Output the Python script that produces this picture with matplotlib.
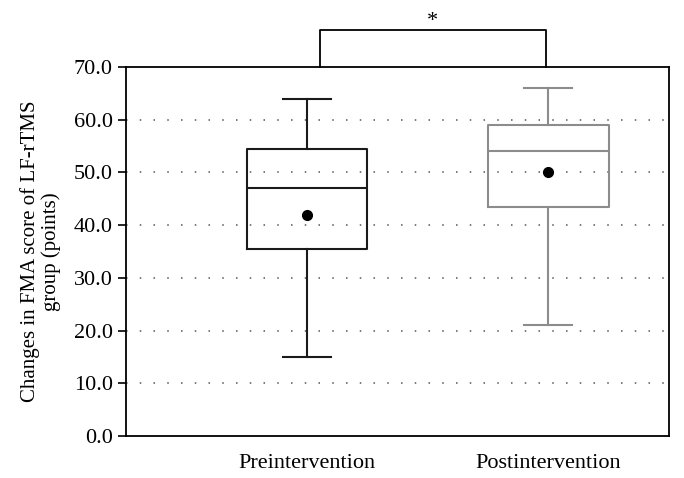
import numpy as np
import matplotlib.pyplot as plt

# box summary values
groups = ["Preintervention", "Postintervention"]
whislo = [15.0, 21.0]
q1 = [35.5, 43.5]
med = [47.0, 54.0]
q3 = [54.5, 59.0]
whishi = [64.0, 66.0]
means = [41.9, 50.1]
colors = ["#1a1a1a", "#8c8c8c"]

plt.rcParams['font.family'] = ['Liberation Serif', 'DejaVu Serif']

fig = plt.figure(figsize=(6.84, 4.78), dpi=100)
ax = fig.add_axes([126 / 684, 1 - 436 / 478, 543 / 684, 369 / 478])

# dotted horizontal grid
for v in range(10, 70, 10):
    ax.axhline(v, color="#555555", lw=1.1, ls=(0, (1, 8)), zorder=0)

positions = [1, 2]
for i in range(2):
    stats = [dict(whislo=whislo[i], q1=q1[i], med=med[i], q3=q3[i],
                  whishi=whishi[i], fliers=[], label=groups[i])]
    c = colors[i]
    ax.bxp(stats, positions=[positions[i]], widths=0.5, capwidths=0.2,
           showfliers=False, patch_artist=False,
           boxprops=dict(color=c, lw=1.5),
           medianprops=dict(color=c, lw=1.5),
           whiskerprops=dict(color=c, lw=1.5),
           capprops=dict(color=c, lw=1.5))
    ax.plot(positions[i], means[i], 'o', color='black', ms=7, zorder=5)

ax.set_xlim(0.25, 2.5)
ax.set_ylim(0, 70)
ax.set_yticks(np.arange(0, 71, 10))
ax.set_yticklabels([f"{v:.1f}" for v in range(0, 71, 10)])
ax.set_xticks(positions)
ax.set_xticklabels(groups)
ax.tick_params(axis='x', length=0, pad=13, labelsize=16)
ax.tick_params(axis='y', length=6, width=1.2, direction='out', labelsize=16)
for s in ax.spines.values():
    s.set_linewidth(1.3)
ax.set_ylabel("Changes in FMA score of LF-rTMS\ngroup (points)", fontsize=15,
              linespacing=1.1, labelpad=9)

# significance bracket
bx = [1.054, 1.054, 1.99, 1.99]
by = [70, 77, 77, 70]
ax.plot(bx, by, color='black', lw=1.3, clip_on=False)
ax.text(1.52, 76.8, "*", ha='center', va='bottom', fontsize=16)

fig.savefig("out.png", dpi=100)
